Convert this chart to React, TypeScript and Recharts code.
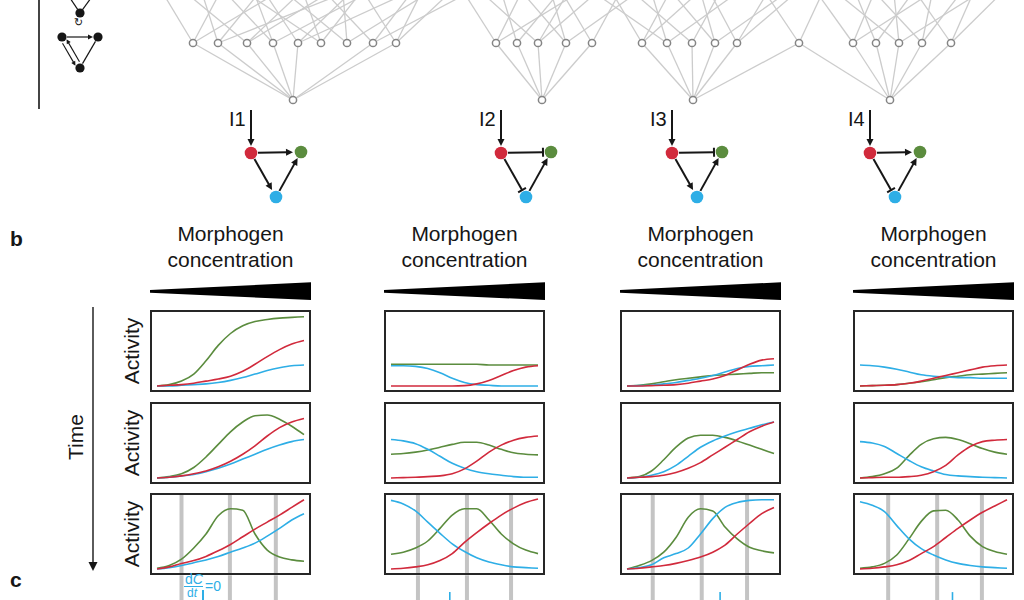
import React from "react";
import {
  ComposedChart, LineChart, AreaChart, Line, Area, Scatter, XAxis, YAxis, ReferenceLine,
} from "recharts";

const RED = "#d12a3c";
const GREEN = "#5b8c3e";
const BLUE = "#2eaee6";
const INK = "#161616";
const FRAME = "#262626";
const EDGE = "#cccccc";
const BAR = "#c4c4c4";
const FONT = "'Liberation Sans', Arial, Helvetica, sans-serif";

// morphogen concentration, low -> high (x of every panel)
const STEPS = [0, 1, 2, 3, 4, 5, 6, 7, 8, 9, 10, 11, 12];

// I1 — activity at three time points
const I1_T1_RED = [0, 0.01, 0.02, 0.04, 0.07, 0.1, 0.14, 0.21, 0.31, 0.42, 0.52, 0.6, 0.65];
const I1_T1_GREEN = [0, 0.02, 0.07, 0.17, 0.36, 0.58, 0.75, 0.86, 0.92, 0.95, 0.97, 0.98, 0.99];
const I1_T1_BLUE = [0, 0, 0.01, 0.02, 0.03, 0.05, 0.08, 0.12, 0.17, 0.22, 0.26, 0.29, 0.3];
const I1_T2_RED = [0, 0.01, 0.03, 0.06, 0.1, 0.16, 0.24, 0.34, 0.46, 0.6, 0.72, 0.8, 0.85];
const I1_T2_GREEN = [0, 0.02, 0.06, 0.15, 0.3, 0.48, 0.66, 0.8, 0.89, 0.9, 0.84, 0.74, 0.62];
const I1_T2_BLUE = [0, 0.01, 0.03, 0.05, 0.09, 0.14, 0.2, 0.27, 0.34, 0.41, 0.47, 0.52, 0.55];
const I1_T3_RED = [0, 0.03, 0.08, 0.12, 0.18, 0.26, 0.35, 0.46, 0.57, 0.67, 0.77, 0.88, 0.99];
const I1_T3_GREEN = [0.01, 0.05, 0.14, 0.3, 0.5, 0.76, 0.86, 0.84, 0.5, 0.27, 0.17, 0.13, 0.11];
const I1_T3_BLUE = [0, 0.02, 0.05, 0.09, 0.13, 0.18, 0.24, 0.3, 0.37, 0.47, 0.58, 0.7, 0.79];

// I2
const I2_T1_RED = [0, 0, 0, 0, 0, 0, 0.005, 0.03, 0.08, 0.15, 0.22, 0.27, 0.29];
const I2_T1_GREEN = [0.31, 0.31, 0.31, 0.31, 0.31, 0.31, 0.31, 0.31, 0.3, 0.3, 0.3, 0.3, 0.3];
const I2_T1_BLUE = [0.29, 0.29, 0.28, 0.25, 0.19, 0.11, 0.05, 0.02, 0.01, 0, 0, 0, 0];
const I2_T2_RED = [0, 0.005, 0.01, 0.02, 0.03, 0.06, 0.13, 0.24, 0.37, 0.47, 0.54, 0.58, 0.6];
const I2_T2_GREEN = [0.34, 0.35, 0.37, 0.4, 0.44, 0.48, 0.51, 0.51, 0.47, 0.41, 0.36, 0.34, 0.33];
const I2_T2_BLUE = [0.55, 0.53, 0.49, 0.41, 0.31, 0.21, 0.14, 0.09, 0.06, 0.04, 0.02, 0.01, 0.01];
const I2_T3_RED = [0, 0.01, 0.03, 0.06, 0.12, 0.22, 0.38, 0.52, 0.65, 0.77, 0.87, 0.95, 1.0];
const I2_T3_GREEN = [0.21, 0.24, 0.3, 0.4, 0.58, 0.77, 0.86, 0.86, 0.7, 0.5, 0.36, 0.27, 0.22];
const I2_T3_BLUE = [0.98, 0.93, 0.83, 0.67, 0.51, 0.36, 0.25, 0.16, 0.1, 0.06, 0.03, 0.02, 0.01];

// I3
const I3_T1_RED = [0, 0, 0.005, 0.01, 0.02, 0.04, 0.07, 0.1, 0.15, 0.23, 0.31, 0.37, 0.39];
const I3_T1_GREEN = [0, 0.01, 0.03, 0.06, 0.09, 0.11, 0.13, 0.15, 0.16, 0.17, 0.18, 0.19, 0.19];
const I3_T1_BLUE = [0, 0.005, 0.01, 0.03, 0.05, 0.08, 0.11, 0.15, 0.2, 0.25, 0.28, 0.29, 0.3];
const I3_T2_RED = [0, 0.01, 0.02, 0.04, 0.08, 0.14, 0.22, 0.33, 0.44, 0.55, 0.66, 0.74, 0.8];
const I3_T2_GREEN = [0, 0.02, 0.1, 0.26, 0.44, 0.57, 0.61, 0.61, 0.58, 0.53, 0.47, 0.41, 0.35];
const I3_T2_BLUE = [0, 0.01, 0.04, 0.09, 0.18, 0.31, 0.44, 0.53, 0.6, 0.66, 0.71, 0.76, 0.8];
const I3_T3_RED = [0, 0.01, 0.03, 0.05, 0.08, 0.12, 0.17, 0.24, 0.34, 0.5, 0.65, 0.79, 0.88];
const I3_T3_GREEN = [0, 0.05, 0.12, 0.24, 0.45, 0.74, 0.86, 0.83, 0.6, 0.43, 0.31, 0.26, 0.23];
const I3_T3_BLUE = [0, 0.02, 0.06, 0.16, 0.22, 0.3, 0.5, 0.72, 0.88, 0.95, 0.98, 0.99, 0.99];

// I4
const I4_T1_RED = [0, 0.005, 0.01, 0.02, 0.04, 0.07, 0.11, 0.15, 0.19, 0.23, 0.27, 0.29, 0.3];
const I4_T1_GREEN = [0, 0.005, 0.01, 0.02, 0.04, 0.06, 0.09, 0.12, 0.14, 0.16, 0.17, 0.18, 0.19];
const I4_T1_BLUE = [0.3, 0.29, 0.27, 0.24, 0.2, 0.16, 0.14, 0.13, 0.12, 0.12, 0.11, 0.11, 0.11];
const I4_T2_RED = [0, 0.005, 0.01, 0.01, 0.02, 0.04, 0.09, 0.18, 0.33, 0.45, 0.52, 0.54, 0.55];
const I4_T2_GREEN = [0, 0.02, 0.06, 0.14, 0.32, 0.48, 0.56, 0.58, 0.55, 0.49, 0.42, 0.37, 0.34];
const I4_T2_BLUE = [0.52, 0.5, 0.45, 0.35, 0.25, 0.16, 0.1, 0.05, 0.03, 0.02, 0.01, 0.005, 0];
const I4_T3_RED = [0, 0.01, 0.03, 0.06, 0.12, 0.22, 0.32, 0.45, 0.58, 0.7, 0.81, 0.9, 0.99];
const I4_T3_GREEN = [0.01, 0.03, 0.08, 0.2, 0.43, 0.68, 0.83, 0.84, 0.7, 0.47, 0.32, 0.25, 0.21];
const I4_T3_BLUE = [0.96, 0.91, 0.82, 0.62, 0.43, 0.29, 0.2, 0.13, 0.08, 0.05, 0.03, 0.02, 0.01];

// concentrations where dC/dt = 0 (grey bars), and blue marks below
const I1_FLAT = [2.0, 5.95, 9.7];
const I2_FLAT = [2.2, 6.2, 9.8];
const I3_FLAT = [2.1, 6.1, 9.8];
const I4_FLAT = [2.3, 6.3, 9.95];
const I2_MARK = [4.8];
const I3_MARK = [7.6];
const I4_MARK = [7.55];

// morphogen wedge (low/high edge at min and max concentration)
const WEDGE_AT = [0, 1];
const WEDGE_LOW = [0.415, 0.05];
const WEDGE_HIGH = [0.55, 0.935];

// network layout
const NET_TOP_Y = -45;
const NET_MID_Y = 43;
const NET_LOW_Y = 100;
const NET_MID = [193, 218, 247, 273, 298, 321, 347, 373, 396, 496, 517, 538, 566, 592, 642, 667, 692, 715, 737, 799, 853, 876, 899, 922, 951];
const NET_LOW = [293, 542, 693, 890];
const NET_UP_LINKS: [number, number][] = [
  [193, 140], [193, 240], [193, 340], [218, 190], [218, 290], [218, 440],
  [247, 140], [247, 340], [247, 390], [273, 190], [273, 240], [273, 440],
  [298, 240], [298, 390], [298, 490], [321, 190], [321, 290], [321, 390],
  [347, 240], [347, 340], [347, 490], [373, 290], [373, 440], [373, 540],
  [396, 340], [396, 440], [396, 490],
  [496, 440], [496, 540], [496, 640], [517, 490], [517, 590],
  [538, 440], [538, 590], [538, 640], [566, 490], [566, 540], [566, 690],
  [592, 540], [592, 640],
  [642, 590], [642, 690], [642, 740], [667, 540], [667, 640], [667, 790],
  [692, 590], [692, 740], [715, 640], [715, 690], [715, 840],
  [737, 690], [737, 790], [737, 840], [799, 740], [799, 840],
  [853, 790], [853, 890], [853, 990], [876, 840], [876, 940],
  [899, 790], [899, 890], [899, 1040], [922, 840], [922, 940], [922, 990],
  [951, 890], [951, 990], [951, 1040],
];
const NET_LOW_LINKS: [number, number][] = [
  [193, 293], [218, 293], [247, 293], [273, 293], [298, 293], [373, 293], [396, 293],
  [496, 542], [517, 542], [538, 542], [566, 542], [592, 542],
  [642, 693], [667, 693], [692, 693], [715, 693], [737, 693], [799, 693],
  [799, 890], [853, 890], [876, 890], [899, 890], [922, 890], [951, 890],
];

// motifs
const MOTIF_LABELS = ["I1", "I2", "I3", "I4"];
const MOTIF_CENTER = [276, 526, 697, 895];
const RED_TO_GREEN = ["arrow", "bar", "bar", "arrow"];
const RED_TO_BLUE = ["arrow", "bar", "arrow", "bar"];

const COL_LEFT = [150, 384, 620, 853];
const ROW_TOP = [310, 402, 493];
const PANEL_W = 161;
const PANEL_H = 82;

const COLUMNS = [
  { rows: [[I1_T1_RED, I1_T1_GREEN, I1_T1_BLUE], [I1_T2_RED, I1_T2_GREEN, I1_T2_BLUE], [I1_T3_RED, I1_T3_GREEN, I1_T3_BLUE]], flat: I1_FLAT, mark: null },
  { rows: [[I2_T1_RED, I2_T1_GREEN, I2_T1_BLUE], [I2_T2_RED, I2_T2_GREEN, I2_T2_BLUE], [I2_T3_RED, I2_T3_GREEN, I2_T3_BLUE]], flat: I2_FLAT, mark: I2_MARK },
  { rows: [[I3_T1_RED, I3_T1_GREEN, I3_T1_BLUE], [I3_T2_RED, I3_T2_GREEN, I3_T2_BLUE], [I3_T3_RED, I3_T3_GREEN, I3_T3_BLUE]], flat: I3_FLAT, mark: I3_MARK },
  { rows: [[I4_T1_RED, I4_T1_GREEN, I4_T1_BLUE], [I4_T2_RED, I4_T2_GREEN, I4_T2_BLUE], [I4_T3_RED, I4_T3_GREEN, I4_T3_BLUE]], flat: I4_FLAT, mark: I4_MARK },
];

// line with optional arrow head / inhibition bar, trimmed at both ends
function link(tip: string, gapStart: number, gapEnd: number, width = 2, head = 7, color = INK) {
  return (p: any) => {
    const x1 = Number(p.x1), y1 = Number(p.y1), x2 = Number(p.x2), y2 = Number(p.y2);
    const len = Math.hypot(x2 - x1, y2 - y1) || 1;
    const ux = (x2 - x1) / len, uy = (y2 - y1) / len;
    const nx = -uy, ny = ux;
    const sx = x1 + ux * gapStart, sy = y1 + uy * gapStart;
    const ex = x2 - ux * gapEnd, ey = y2 - uy * gapEnd;
    if (tip === "arrow") {
      const hw = head * 0.5;
      const bx = ex - ux * head, by = ey - uy * head;
      return (
        <g>
          <line x1={sx} y1={sy} x2={bx + ux} y2={by + uy} stroke={color} strokeWidth={width} />
          <polygon points={`${ex},${ey} ${bx + nx * hw},${by + ny * hw} ${bx - nx * hw},${by - ny * hw}`} fill={color} />
        </g>
      );
    }
    if (tip === "bar") {
      return (
        <g>
          <line x1={sx} y1={sy} x2={ex} y2={ey} stroke={color} strokeWidth={width} />
          <line x1={ex + nx * 4.5} y1={ey + ny * 4.5} x2={ex - nx * 4.5} y2={ey - ny * 4.5} stroke={color} strokeWidth={width} />
        </g>
      );
    }
    return <line x1={sx} y1={sy} x2={ex} y2={ey} stroke={color} strokeWidth={width} />;
  };
}

const netNode = (p: any) => <circle cx={p.cx} cy={p.cy} r={3.6} fill="#fff" stroke="#858585" strokeWidth={1.5} />;
const motifNode = (p: any) => <circle cx={p.cx} cy={p.cy} r={p.payload.r} fill={p.payload.fill} />;

function Backdrop() {
  const netPts = [...NET_MID.map((x) => ({ x, y: NET_MID_Y })), ...NET_LOW.map((x) => ({ x, y: NET_LOW_Y }))];
  const motifPts = MOTIF_CENTER.flatMap((c) => [
    { x: c - 25, y: 153, fill: RED, r: 6.3 },
    { x: c + 25, y: 152, fill: GREEN, r: 6.3 },
    { x: c, y: 197, fill: BLUE, r: 6.3 },
  ]);
  const blackPts = [
    { x: 80, y: 13, fill: INK, r: 4.6 },
    { x: 62, y: 37, fill: INK, r: 4.6 },
    { x: 98, y: 37, fill: INK, r: 4.6 },
    { x: 80, y: 68, fill: INK, r: 4.6 },
  ];
  const seg = (a: [number, number], b: [number, number]) => [{ x: a[0], y: a[1] }, { x: b[0], y: b[1] }];
  return (
    <div style={{ position: "absolute", left: 0, top: 0 }}>
      <ComposedChart width={1024} height={600} margin={{ top: 0, right: 0, bottom: 0, left: 0 }}>
        <XAxis type="number" dataKey="x" domain={[0, 1024]} scale="linear" hide allowDataOverflow />
        <YAxis type="number" dataKey="y" domain={[0, 600]} scale="linear" reversed hide allowDataOverflow />
        {NET_UP_LINKS.map(([a, b], i) => (
          <ReferenceLine key={"u" + i} segment={seg([a, NET_MID_Y], [b, NET_TOP_Y])} stroke={EDGE} strokeWidth={1.3} ifOverflow="visible" />
        ))}
        {NET_LOW_LINKS.map(([a, b], i) => (
          <ReferenceLine key={"l" + i} segment={seg([a, NET_MID_Y], [b, NET_LOW_Y])} stroke={EDGE} strokeWidth={1.3} ifOverflow="visible" />
        ))}
        {MOTIF_CENTER.map((c, i) => (
          <React.Fragment key={"m" + i}>
            <ReferenceLine segment={seg([c - 25, 110], [c - 25, 153])} ifOverflow="visible" shape={link("arrow", 0, 7)} />
            <ReferenceLine segment={seg([c - 25, 153], [c + 25, 152])} ifOverflow="visible" shape={link(RED_TO_GREEN[i], 7, 8)} />
            <ReferenceLine segment={seg([c - 25, 153], [c, 197])} ifOverflow="visible" shape={link(RED_TO_BLUE[i], 7, 8)} />
            <ReferenceLine segment={seg([c, 197], [c + 25, 152])} ifOverflow="visible" shape={link("arrow", 7, 7)} />
          </React.Fragment>
        ))}
        {/* small black motif, top left */}
        <ReferenceLine segment={seg([70, -2], [80, 13])} ifOverflow="visible" shape={link("none", 0, 4, 1.2)} />
        <ReferenceLine segment={seg([91, -2], [80, 13])} ifOverflow="visible" shape={link("none", 0, 4, 1.2)} />
        <ReferenceLine segment={seg([62, 37], [98, 37])} ifOverflow="visible" shape={link("arrow", 5, 5, 1.2, 5)} />
        <ReferenceLine segment={seg([60, 39], [78, 70])} ifOverflow="visible" shape={link("arrow", 5, 5, 1.1, 4.5)} />
        <ReferenceLine segment={seg([82, 66], [64, 35])} ifOverflow="visible" shape={link("arrow", 5, 5, 1.1, 4.5)} />
        <ReferenceLine segment={seg([80, 68], [98, 37])} ifOverflow="visible" shape={link("none", 5, 5, 1.2)} />
        <ReferenceLine segment={seg([39, 0], [39, 109])} stroke={INK} strokeWidth={1.6} ifOverflow="visible" />
        {/* time arrow */}
        <ReferenceLine segment={seg([93, 307], [93, 571])} ifOverflow="visible" shape={link("arrow", 0, 0, 1.4, 9)} />
        <Scatter data={netPts} shape={netNode} isAnimationActive={false} />
        <Scatter data={motifPts} shape={motifNode} isAnimationActive={false} />
        <Scatter data={blackPts} shape={motifNode} isAnimationActive={false} />
      </ComposedChart>
    </div>
  );
}

function Wedge({ left }: { left: number }) {
  const data = WEDGE_AT.map((x, i) => ({ x, band: [WEDGE_LOW[i], WEDGE_HIGH[i]] }));
  return (
    <div style={{ position: "absolute", left, top: 281 }}>
      <AreaChart width={PANEL_W} height={20} data={data} margin={{ top: 0, right: 0, bottom: 0, left: 0 }}>
        <XAxis type="number" dataKey="x" domain={[0, 1]} hide />
        <YAxis type="number" domain={[0, 1]} hide />
        <Area type="linear" dataKey="band" stroke="none" fill="#000" fillOpacity={1} isAnimationActive={false} />
      </AreaChart>
    </div>
  );
}

function Panel({ left, top, series, flat, mark }: any) {
  const [red, green, blue] = series;
  const data = STEPS.map((s, i) => ({ s, red: red[i], green: green[i], blue: blue[i] }));
  const h = flat ? 600 - top - 2 : 78;
  const low = -(h - 74) / 70;
  return (
    <div style={{ position: "absolute", left, top, width: PANEL_W, height: PANEL_H, boxSizing: "border-box", border: `2px solid ${FRAME}` }}>
      <LineChart width={PANEL_W - 4} height={h} data={data} margin={{ top: 4, right: 5, bottom: h - 74, left: 5 }}>
        <XAxis type="number" dataKey="s" domain={[0, 12]} hide />
        <YAxis type="number" domain={[0, 1]} hide />
        {flat && flat.map((f: number) => (
          <ReferenceLine key={"a" + f} segment={[{ x: f, y: 1.057 }, { x: f, y: -0.057 }]} stroke={BAR} strokeWidth={4} ifOverflow="visible" />
        ))}
        {flat && flat.map((f: number) => (
          <ReferenceLine key={"b" + f} segment={[{ x: f, y: -0.09 }, { x: f, y: low }]} stroke={BAR} strokeWidth={4} ifOverflow="visible" />
        ))}
        {mark && mark.map((m: number) => (
          <ReferenceLine key={"c" + m} segment={[{ x: m, y: -0.33 }, { x: m, y: low }]} stroke={BLUE} strokeWidth={1.6} ifOverflow="visible" />
        ))}
        <Line type="monotone" dataKey="green" stroke={GREEN} strokeWidth={1.6} dot={false} activeDot={false} isAnimationActive={false} />
        <Line type="monotone" dataKey="blue" stroke={BLUE} strokeWidth={1.6} dot={false} activeDot={false} isAnimationActive={false} />
        <Line type="monotone" dataKey="red" stroke={RED} strokeWidth={1.6} dot={false} activeDot={false} isAnimationActive={false} />
      </LineChart>
    </div>
  );
}

function Txt({ x, base, size, center, bold, color = INK, children }: any) {
  return (
    <div style={{
      position: "absolute", left: x, top: base - size * 0.846, fontSize: size, lineHeight: `${size}px`,
      fontFamily: FONT, fontWeight: bold ? 700 : 400, color,
      whiteSpace: "nowrap", transform: center ? "translateX(-50%)" : undefined,
    }}>{children}</div>
  );
}

function VTxt({ x, y, size, children }: any) {
  return (
    <div style={{
      position: "absolute", left: x, top: y, fontSize: size, lineHeight: `${size}px`, fontFamily: FONT, color: INK,
      whiteSpace: "nowrap", transform: "translate(-50%, -50%) rotate(-90deg)",
    }}>{children}</div>
  );
}

export default function App() {
  return (
    <div style={{ position: "absolute", left: 0, top: 0, width: 1024, height: 600, overflow: "hidden", background: "#fff" }}>
      <Backdrop />
      {COL_LEFT.map((l) => <Wedge key={"w" + l} left={l} />)}
      {COLUMNS.map((col, ci) => col.rows.map((series, ri) => (
        <Panel key={ci + "-" + ri} left={COL_LEFT[ci]} top={ROW_TOP[ri]} series={series}
          flat={ri === 2 ? col.flat : null} mark={ri === 2 ? col.mark : null} />
      )))}
      {COL_LEFT.map((l) => (
        <React.Fragment key={"t" + l}>
          <Txt x={l + PANEL_W / 2} base={241} size={21} center>Morphogen</Txt>
          <Txt x={l + PANEL_W / 2} base={267} size={21} center>concentration</Txt>
        </React.Fragment>
      ))}
      {MOTIF_LABELS.map((lab, i) => (
        <Txt key={lab} x={MOTIF_CENTER[i] - 47} base={126} size={20}>{lab}</Txt>
      ))}
      {ROW_TOP.map((t) => <VTxt key={"act" + t} x={131} y={t + PANEL_H / 2} size={21}>Activity</VTxt>)}
      <VTxt x={75} y={437} size={21}>Time</VTxt>
      <Txt x={10} base={246} size={21} bold>b</Txt>
      <Txt x={10} base={587} size={21} bold>c</Txt>
      <div style={{ position: "absolute", left: 74, top: 17, fontSize: 11, lineHeight: "11px", fontFamily: "DejaVu Sans", color: INK }}>↻</div>
      {/* dC/dt = 0 */}
      <Txt x={185} base={584} size={14} color={BLUE}>d<i>C</i></Txt>
      <div style={{ position: "absolute", left: 184, top: 586, width: 19, height: 1.3, background: BLUE }} />
      <Txt x={187} base={597} size={12} color={BLUE}>d<i>t</i></Txt>
      <Txt x={205} base={591} size={14} color={BLUE}>=0</Txt>
      <div style={{ position: "absolute", left: 202, top: 590, width: 1.5, height: 10, background: BLUE }} />
    </div>
  );
}
